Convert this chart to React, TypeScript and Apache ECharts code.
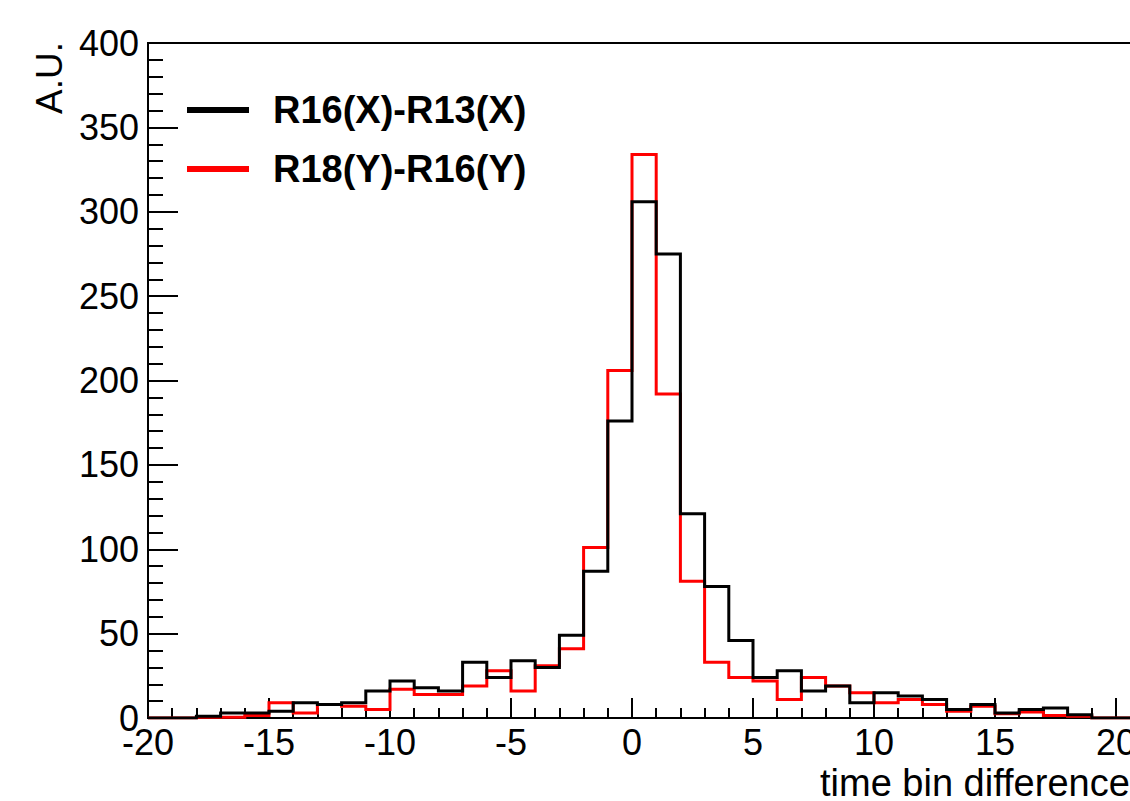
import React, { useEffect, useRef } from "react";
import * as echarts from "echarts";

// Histogram bins (lower edges), width 1
const binLows = [
  -20, -19, -18, -17, -16, -15, -14, -13, -12, -11,
  -10, -9, -8, -7, -6, -5, -4, -3, -2, -1,
  0, 1, 2, 3, 4, 5, 6, 7, 8, 9,
  10, 11, 12, 13, 14, 15, 16, 17, 18, 19, 20,
];
const binWidth = 1;

// R16(X)-R13(X)
const blackCounts = [
  0, 0, 1, 3, 3, 4, 9, 8, 9, 16,
  22, 18, 16, 33, 24, 34, 30, 49, 87, 176,
  306, 275, 121, 78, 46, 24, 28, 16, 19, 9,
  15, 13, 11, 5, 8, 3, 5, 6, 2, 0, 0,
];

// R18(Y)-R16(Y)
const redCounts = [
  0, 0, 0.5, 0.5, 1.5, 9, 3, 8, 7, 5,
  17, 14, 14, 19, 28, 16, 31, 41, 101, 206,
  334, 192, 81, 33, 24, 22, 11, 24, 19, 15,
  9, 11, 8, 4, 7, 2.5, 3.5, 1.5, 1, 0, 0,
];

const seriesNames = ["R16(X)-R13(X)", "R18(Y)-R16(Y)"];
const seriesColors = ["#000000", "#ff0000"];
const xTitle = "time bin difference";
const yTitle = "A.U.";

const FONT = "'Liberation Sans', Arial, Helvetica, sans-serif";

function stepData(counts: number[]) {
  const pts = binLows.map((x, i) => [x, counts[i]]);
  pts.push([binLows[binLows.length - 1] + binWidth, counts[counts.length - 1]]);
  return pts;
}

export default function App() {
  const ref = useRef<HTMLDivElement>(null);

  useEffect(() => {
    if (!ref.current) return;
    const chart = echarts.init(ref.current, undefined, { renderer: "svg" });
    const axisColor = "#000";
    chart.setOption({
      animation: false,
      backgroundColor: "#fff",
      grid: {
        left: 148,
        top: 43,
        right: 63,
        bottom: 83,
        show: true,
        borderColor: "#000",
        borderWidth: 2,
        backgroundColor: "transparent",
      },
      xAxis: {
        type: "value",
        min: -20,
        max: 25,
        interval: 5,
        axisLine: { show: true, onZero: false, lineStyle: { color: axisColor, width: 2 } },
        axisTick: { show: true, inside: true, length: 20, lineStyle: { color: axisColor, width: 2 } },
        minorTick: { show: true, splitNumber: 5, length: 10, lineStyle: { color: axisColor, width: 2 } },
        splitLine: { show: false },
        minorSplitLine: { show: false },
        axisLabel: {
          margin: 6,
          fontSize: 36,
          fontFamily: FONT,
          color: "#000",
          showMinLabel: true,
          showMaxLabel: true,
        },
      },
      yAxis: {
        type: "value",
        min: 0,
        max: 400,
        interval: 50,
        axisLine: { show: true, onZero: false, lineStyle: { color: axisColor, width: 2 } },
        axisTick: { show: true, inside: true, length: 30, lineStyle: { color: axisColor, width: 2 } },
        minorTick: { show: true, splitNumber: 5, length: 15, lineStyle: { color: axisColor, width: 2 } },
        splitLine: { show: false },
        minorSplitLine: { show: false },
        axisLabel: {
          margin: 9,
          fontSize: 36,
          fontFamily: FONT,
          color: "#000",
          showMinLabel: true,
          showMaxLabel: true,
        },
      },
      legend: {
        data: seriesNames,
        orient: "vertical",
        left: 187,
        top: 91,
        padding: 0,
        itemWidth: 62,
        itemHeight: 6,
        itemGap: 21,
        icon: "rect",
        selectedMode: false,
        textStyle: {
          fontSize: 38,
          fontWeight: "bold",
          fontFamily: FONT,
          color: "#000",
          padding: [0, 0, 0, 19],
        },
      },
      series: [
        {
          name: seriesNames[1],
          type: "line",
          step: "end",
          data: stepData(redCounts),
          color: seriesColors[1],
          showSymbol: false,
          symbol: "none",
          lineStyle: { color: seriesColors[1], width: 3, join: "miter" },
          z: 3,
        },
        {
          name: seriesNames[0],
          type: "line",
          step: "end",
          data: stepData(blackCounts),
          color: seriesColors[0],
          showSymbol: false,
          symbol: "none",
          lineStyle: { color: seriesColors[0], width: 3, join: "miter" },
          z: 4,
        },
      ],
      graphic: [
        {
          type: "text",
          x: 49,
          y: 42,
          rotation: Math.PI / 2,
          style: {
            text: yTitle,
            fontSize: 37,
            fontFamily: FONT,
            fill: "#000",
            align: "right",
            verticalAlign: "middle",
          },
        },
        {
          type: "text",
          x: 820,
          y: 783,
          style: {
            text: xTitle,
            fontSize: 38,
            fontFamily: FONT,
            fill: "#000",
            align: "left",
            verticalAlign: "middle",
          },
        },
      ],
    });
    return () => chart.dispose();
  }, []);

  return (
    <div
      style={{
        position: "fixed",
        left: 0,
        top: 0,
        width: 1130,
        height: 801,
        overflow: "hidden",
        background: "#fff",
      }}
    >
      <div ref={ref} style={{ width: 1300, height: 801 }} />
    </div>
  );
}
